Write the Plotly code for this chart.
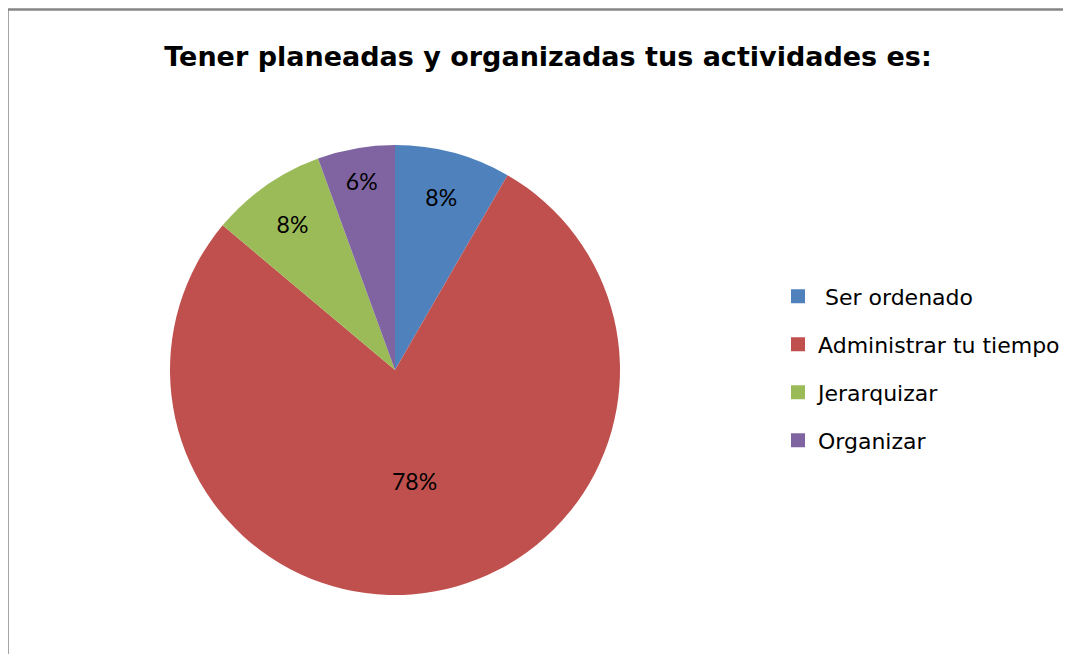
import plotly.graph_objects as go

categories = [" Ser ordenado", "Administrar tu tiempo", "Jerarquizar", "Organizar"]
counts = [3, 28, 3, 2]
colors = ["#4F81BD", "#C0504D", "#9BBB59", "#8064A2"]
title_text = "Tener planeadas y organizadas tus actividades es:"

W, H = 1071, 654
OFF = 8  # page body margin
cx, cy, R = 395 - OFF, 370 - OFF, 225

fig = go.Figure()
fig.add_trace(go.Pie(
    labels=categories,
    values=counts,
    marker=dict(colors=colors, line=dict(width=0)),
    sort=False,
    direction="clockwise",
    rotation=0,
    texttemplate="%{percent:.0%}",
    textposition="inside",
    insidetextorientation="horizontal",
    textfont=dict(family="Lato", size=23, color="black"),
    domain=dict(x=[(cx - R) / W, (cx + R) / W], y=[1 - (cy + R) / H, 1 - (cy - R) / H]),
    hoverinfo="label+percent",
    showlegend=False,
))

# legend entries (one per category)
for cat, col in zip(categories, colors):
    fig.add_trace(go.Scatter(
        x=[None], y=[None], mode="markers", name=cat, legendgroup=cat,
        marker=dict(symbol="square", size=14, color=col),
        hoverinfo="skip",
    ))

fig.update_layout(
    width=W, height=H,
    margin=dict(l=0, r=0, t=0, b=0),
    paper_bgcolor="white",
    plot_bgcolor="white",
    xaxis=dict(visible=False), yaxis=dict(visible=False),
    title=dict(text="<b>" + title_text + "</b>", x=(548 - OFF) / W, xanchor="center",
               y=1 - (57 - OFF) / H, yanchor="middle",
               font=dict(family="DejaVu Sans", size=27, color="black")),
    legend=dict(x=(778 - OFF) / W, y=1 - (275.4 - OFF) / H, xanchor="left", yanchor="top",
                font=dict(family="DejaVu Sans", size=22, color="black"),
                tracegroupgap=16.4, itemsizing="trace",
                bgcolor="rgba(0,0,0,0)"),
    shapes=[dict(type="rect", xref="paper", yref="paper",
                 x0=(7.5 - OFF) / W, x1=1.02, y0=-0.05, y1=1 - (9.5 - OFF) / H,
                 line=dict(color="#868686", width=2.5))],
)

fig.write_html("out.html")
